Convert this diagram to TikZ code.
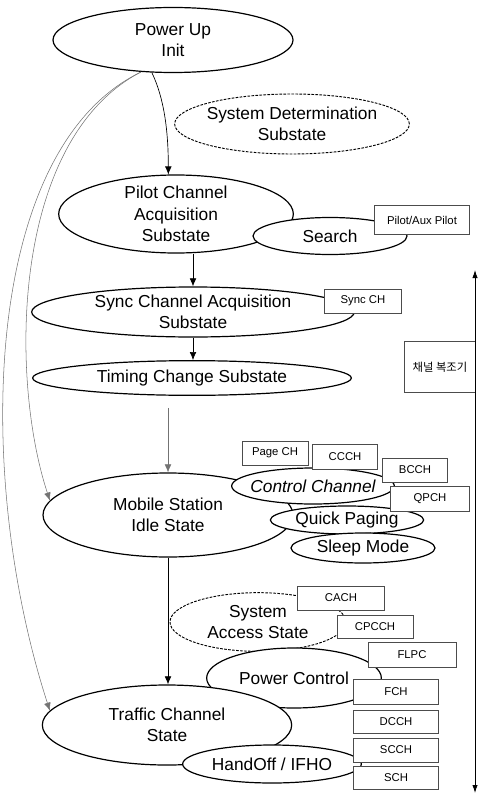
\documentclass[tikz,border=0pt]{standalone}
\usepackage{fontspec}
\setmainfont{Liberation Sans}
\newfontfamily\krfont{Noto Sans CJK KR}
\usetikzlibrary{shapes.geometric,arrows.meta}

\begin{document}
\begin{tikzpicture}[x=0.75pt, y=-0.75pt,
    state/.style={draw, ellipse, line width=0.9pt, fill=white, inner sep=0pt},
    dstate/.style={state, line width=0.7pt, dash pattern=on 2pt off 1pt},
    txt/.style={align=center, inner sep=0pt, font=\fontsize{13}{16}\selectfont},
    chan/.style={draw=black!70, line width=0.45pt, fill=white, inner sep=0pt,
      font=\fontsize{8.5}{10}\selectfont},
    flow/.style={-{Latex[length=6pt, width=5pt]}, line width=0.5pt},
    jump/.style={flow, draw=black!55, line width=0.4pt}]
  \useasboundingbox (0,0) rectangle (478,795);

  % Power up and acquisition
  \node[state, minimum width=180pt, minimum height=48.75pt,
        label={[txt]center:{Power Up\\Init}}] (power) at (173,40) {};
  \node[dstate, minimum width=176pt, minimum height=45pt,
        label={[txt]center:{System Determination\\Substate}}] (sysdet) at (292,124) {};
  \node[state, minimum width=176pt, minimum height=58.5pt,
        label={[txt]center:{Pilot Channel\\Acquisition\\Substate}}] (pilot) at (176,214) {};
  \node[state, minimum width=115.5pt, minimum height=27.75pt,
        label={[txt]center:Search}] (search) at (330,236) {};
  \node[state, minimum width=242pt, minimum height=37.5pt,
        label={[txt]center:{Sync Channel Acquisition\\Substate}}] (sync) at (193,312) {};
  \node[state, minimum width=239pt, minimum height=26pt,
        label={[txt]center:Timing Change Substate}] (timing) at (192,378) {};

  % Idle state
  \node[state, minimum width=187.5pt, minimum height=63pt,
        label={[txt]center:{Mobile Station\\Idle State}}] (mobile) at (168,515) {};
  \node[state, minimum width=122pt, minimum height=27pt,
        label={[txt, font=\fontsize{13}{16}\selectfont\itshape]center:Control Channel}] (control) at (313,486) {};
  \node[state, minimum width=115pt, minimum height=21pt,
        label={[txt]center:Quick Paging}] (quick) at (347,520) {};
  \node[state, minimum width=108pt, minimum height=22.5pt,
        label={[txt]center:Sleep Mode}] (sleep) at (363,548) {};

  % Access and traffic
  \node[dstate, minimum width=132pt, minimum height=44pt,
        label={[txt]center:{System\\Access State}}] (access) at (258,622) {};
  \node[state, minimum width=131pt, minimum height=45pt,
        label={[txt]center:Power Control}] (powerctl) at (294,678) {};
  \node[state, minimum width=187pt, minimum height=60pt,
        label={[txt]center:{Traffic Channel\\State}}] (traffic) at (167,725) {};
  \node[state, minimum width=134pt, minimum height=28.5pt,
        label={[txt]center:HandOff / IFHO}] (handoff) at (272,764) {};

  % Channels
  \foreach \name/\lbl/\x/\y/\w/\h in {
      pilotaux/Pilot\slash Aux Pilot/422/220/71/22, synch/Sync CH/363/301/58/18,
      pagech/Page CH/275/453/49.5/18, ccch/CCCH/345/457/49/19,
      bcch/BCCH/415/470/49/18, qpch/QPCH/430/499/59/19,
      cach/CACH/341/598/65/18, cpcch/CPCCH/375/627/57/17,
      flpc/FLPC/412/655/66/19, fch/FCH/396/692/64/19,
      dcch/DCCH/396/722/64/17, scch/SCCH/396/750/64/18,
      sch/SCH/396/778/64/17} {
    \node[chan, minimum width=\w pt, minimum height=\h pt] (\name) at (\x,\y) {\lbl};
  }

  % Demodulator
  \coordinate (dtop) at (475,270);
  \coordinate (dbot) at (475,793);
  \node[inner sep=0pt, minimum width=53.25pt, minimum height=38pt,
        font=\krfont\fontsize{8.5}{10}\selectfont] (demod) at (440,367) {채널 복조기};
  \draw[draw=black!70, line width=0.45pt] (demod.north -| dtop) -- ++(-71,0) coordinate (dnw)
    -- (dnw |- demod.south) -- (demod.south -| dtop);
  \draw[{Latex[length=6pt, width=4pt]}-{Latex[length=6pt, width=4pt]}, line width=0.6pt] (dbot) -- (dtop);

  % Transitions
  \draw[flow] (power.237) .. controls +(12,25) and +(0,-45) .. (pilot.101);
  \draw[flow] (pilot.south -| sync.north) -- (sync.north);
  \draw[flow] (sync.south) -- (sync.south |- timing.north);
  \draw[jump] ([yshift=-9pt]timing.south -| mobile.north) -- (mobile.north);
  \draw[flow] (mobile.south) -- (mobile.south |- traffic.north);
  \draw[jump] (power.225) .. controls (10,140) and (10,380) .. (mobile.173);
  \draw[jump] (power.225) .. controls (-20,150) and (-25,480) .. (traffic.173);
\end{tikzpicture}
\end{document}
